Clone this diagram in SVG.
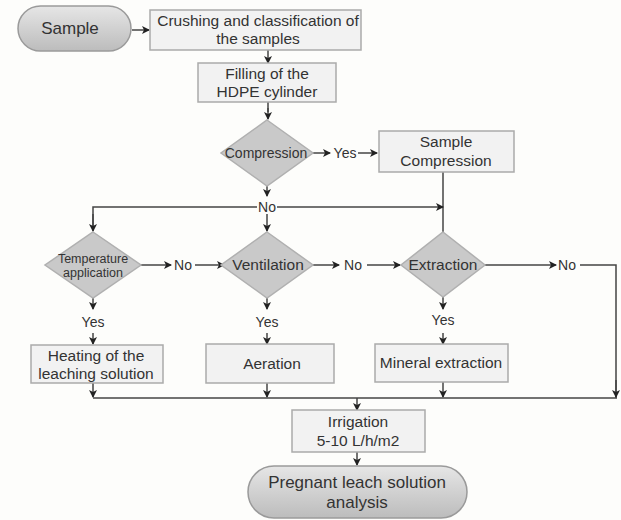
<svg xmlns="http://www.w3.org/2000/svg" width="621" height="520" viewBox="0 0 621 520">
<defs>
<linearGradient id="pill" x1="0" y1="0" x2="0" y2="1">
<stop offset="0" stop-color="#e6e6e6"/>
<stop offset="1" stop-color="#bcbcbc"/>
</linearGradient>
<marker id="ah" markerWidth="10" markerHeight="10" refX="8" refY="5" orient="auto" markerUnits="userSpaceOnUse">
<path d="M1,1 L9,5 L1,9 L3,5 z" fill="#222"/>
</marker>
<style>
.box{fill:#f2f2f2;stroke:#aaaaaa;stroke-width:1.5}
.dia{fill:#c9c9c9;stroke:#b0b0b0;stroke-width:1.5}
.pill{fill:url(#pill);stroke:#9a9a9a;stroke-width:1.5}
.ln{fill:none;stroke:#444;stroke-width:1.5}
.ar{fill:none;stroke:#444;stroke-width:1.5;marker-end:url(#ah)}
text{font-family:"Liberation Sans",Arial,sans-serif;fill:#333;text-anchor:middle}
.t{font-size:15.5px}
.p{font-size:17px}
.c{font-size:14px}
.s{font-size:12.5px}
.lb{font-size:14px}
</style>
</defs>
<rect width="621" height="520" fill="#fdfdfb"/>
<g id="connectors">
<path class="ar" d="M132,30 H149"/>
<path class="ar" d="M268,50 V63"/>
<path class="ln" d="M268,102 V112"/>
<path class="ar" d="M268,108 V119"/>
<path class="ar" d="M313,153 H330"/>
<path class="ar" d="M358,153 H377"/>
<path class="ln" d="M443,172 V232"/>
<path class="ar" d="M267,186 V196"/>
<path class="ln" d="M93,228 V207 H257"/>
<path class="ar" d="M277,207 H443"/>
<path class="ar" d="M93,214 V231"/>
<path class="ar" d="M267,214 V231"/>
<path class="ar" d="M141,265 H171"/>
<path class="ar" d="M195,265 H224"/>
<path class="ar" d="M313,265 H339"/>
<path class="ar" d="M367,265 H400"/>
<path class="ar" d="M485,265 H556"/>
<path class="ln" d="M580,265 H616 V398"/>
<path class="ar" d="M616,380 V397"/>
<path class="ar" d="M93,298 V309"/>
<path class="ar" d="M93,333 V344"/>
<path class="ar" d="M267,298 V309"/>
<path class="ar" d="M267,333 V344"/>
<path class="ar" d="M443,297 V309"/>
<path class="ar" d="M443,333 V344"/>
<path class="ar" d="M93,383 V397"/>
<path class="ar" d="M267,383 V397"/>
<path class="ar" d="M443,382 V397"/>
<path class="ln" d="M93,398 H617"/>
<path class="ar" d="M357,398 V410"/>
<path class="ar" d="M357,452 V465"/>
<text class="lb" x="345" y="158">Yes</text>
<text class="lb" x="267" y="212">No</text>
<text class="lb" x="183" y="270">No</text>
<text class="lb" x="353" y="270">No</text>
<text class="lb" x="567" y="270">No</text>
<text class="lb" x="93" y="327">Yes</text>
<text class="lb" x="267" y="327">Yes</text>
<text class="lb" x="443" y="325">Yes</text>
</g>
<g id="sample">
<rect class="pill" x="18" y="6" width="113" height="45" rx="22.5"/>
<text class="p" x="70" y="34">Sample</text>
</g>
<g id="crushing">
<rect class="box" x="150" y="10" width="211" height="40"/>
<text class="t" x="258" y="26">Crushing and classification of</text>
<text class="t" x="258" y="44">the samples</text>
</g>
<g id="filling">
<rect class="box" x="198" y="63" width="138" height="39"/>
<text class="t" x="267" y="79">Filling of the</text>
<text class="t" x="267" y="97">HDPE cylinder</text>
</g>
<g id="compression">
<polygon class="dia" points="267,120 313,153 267,186 221,153"/>
<text class="c" x="266" y="158">Compression</text>
</g>
<g id="sample-compression">
<rect class="box" x="379" y="131" width="135" height="41"/>
<text class="t" x="446" y="147">Sample</text>
<text class="t" x="446" y="166">Compression</text>
</g>
<g id="temperature">
<polygon class="dia" points="93,232 141,265 93,298 45,265"/>
<text class="s" x="93" y="263">Temperature</text>
<text class="s" x="93" y="277">application</text>
</g>
<g id="ventilation">
<polygon class="dia" points="267,232 313,265 267,298 221,265"/>
<text class="t" x="268" y="270">Ventilation</text>
</g>
<g id="extraction">
<polygon class="dia" points="443,232 485,265 443,297 401,265"/>
<text class="t" x="443" y="270">Extraction</text>
</g>
<g id="heating">
<rect class="box" x="31" y="345" width="132" height="38"/>
<text class="t" x="96" y="361">Heating of the</text>
<text class="t" x="96" y="379">leaching solution</text>
</g>
<g id="aeration">
<rect class="box" x="206" y="344" width="128" height="39"/>
<text class="t" x="272" y="369">Aeration</text>
</g>
<g id="mineral">
<rect class="box" x="375" y="344" width="133" height="38"/>
<text class="t" x="441" y="368">Mineral extraction</text>
</g>
<g id="irrigation">
<rect class="box" x="292" y="410" width="133" height="42"/>
<text class="t" x="358" y="427">Irrigation</text>
<text class="t" x="358" y="446">5-10 L/h/m2</text>
</g>
<g id="pregnant">
<rect class="pill" x="248" y="466" width="219" height="52" rx="26"/>
<text class="p" x="357" y="488">Pregnant leach solution</text>
<text class="p" x="357" y="508">analysis</text>
</g>
</svg>
